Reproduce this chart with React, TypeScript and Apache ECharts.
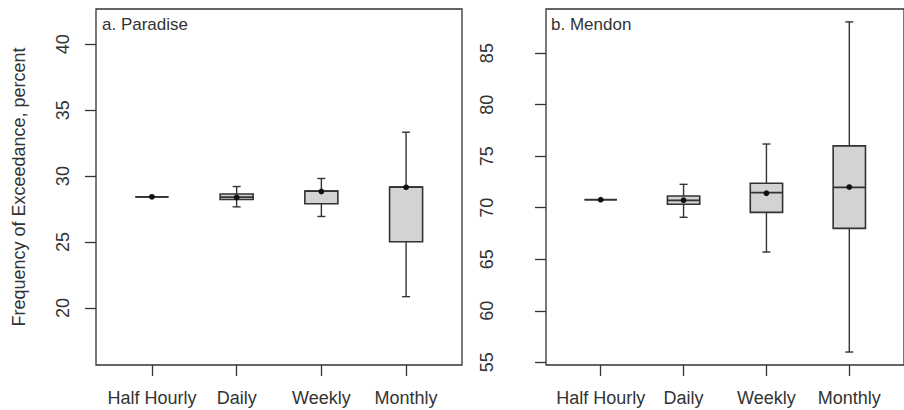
import React, { useEffect, useRef } from "react";
import * as echarts from "echarts";

// Aggregation intervals shown on the x axis
const categories = ["Half Hourly", "Daily", "Weekly", "Monthly"];

// a. Paradise — box statistics (percent)
const paradiseMin = [28.43, 27.67, 26.94, 20.86];
const paradiseQ1 = [28.43, 28.23, 27.9, 25.02];
const paradiseMedian = [28.43, 28.4, 28.86, 29.17];
const paradiseQ3 = [28.43, 28.64, 28.86, 29.17];
const paradiseMax = [28.43, 29.21, 29.82, 33.33];
const paradiseMean = [28.43, 28.38, 28.83, 29.15];
const paradiseTicks = [20, 25, 30, 35, 40];

// b. Mendon — box statistics (percent)
const mendonMin = [70.78, 69.07, 65.7, 56.0];
const mendonQ1 = [70.78, 70.33, 69.55, 68.0];
const mendonMedian = [70.78, 70.72, 71.46, 71.98];
const mendonQ3 = [70.78, 71.14, 72.37, 76.0];
const mendonMax = [70.78, 72.27, 76.18, 88.03];
const mendonMean = [70.78, 70.72, 71.4, 72.0];
const mendonTicks = [55, 60, 65, 70, 75, 80, 85];

const yTitle = "Frequency of Exceedance, percent";

const FONT = "'Liberation Sans', Arial, Helvetica, sans-serif";
const INK = "#333333";
const xPositions = [1, 2, 3, 4];

function buildRows(
  mn: number[], q1: number[], med: number[], q3: number[], mx: number[], mean: number[]
) {
  return categories.map((_, i) => [i + 1, mn[i], q1[i], med[i], q3[i], mx[i], mean[i]]);
}

const renderBox = (params: any, api: any) => {
  const x = api.value(0);
  const pMin = api.coord([x, api.value(1)]);
  const pQ1 = api.coord([x, api.value(2)]);
  const pMed = api.coord([x, api.value(3)]);
  const pQ3 = api.coord([x, api.value(4)]);
  const pMax = api.coord([x, api.value(5)]);
  const pMean = api.coord([x, api.value(6)]);
  const bw = api.size([0.39, 0])[0];
  const cx = pMed[0];
  const capHalf = 4;
  const lineStyle = { stroke: INK, lineWidth: 1.4, fill: null };
  return {
    type: "group",
    children: [
      { type: "line", shape: { x1: cx, y1: pMin[1], x2: cx, y2: pQ1[1] }, style: lineStyle },
      { type: "line", shape: { x1: cx, y1: pQ3[1], x2: cx, y2: pMax[1] }, style: lineStyle },
      { type: "line", shape: { x1: cx - capHalf, y1: pMin[1], x2: cx + capHalf, y2: pMin[1] }, style: lineStyle },
      { type: "line", shape: { x1: cx - capHalf, y1: pMax[1], x2: cx + capHalf, y2: pMax[1] }, style: lineStyle },
      {
        type: "rect",
        shape: { x: cx - bw / 2, y: pQ3[1], width: bw, height: pQ1[1] - pQ3[1] },
        style: { fill: "#d3d3d3", stroke: INK, lineWidth: 1.6 },
      },
      {
        type: "line",
        shape: { x1: cx - bw / 2, y1: pMed[1], x2: cx + bw / 2, y2: pMed[1] },
        style: { stroke: INK, lineWidth: 1.8 },
      },
      {
        type: "circle",
        shape: { cx: pMean[0], cy: pMean[1], r: 2.9 },
        style: { fill: "#111111", stroke: null },
      },
    ],
  };
};

function xAxisFor(gridIndex: number) {
  return {
    type: "value",
    gridIndex,
    min: 0.34,
    max: 4.66,
    axisLine: { show: false, onZero: false },
    splitLine: { show: false },
    axisTick: {
      show: true,
      inside: false,
      length: 11,
      customValues: xPositions,
      lineStyle: { color: INK, width: 1.3 },
    },
    axisLabel: {
      show: true,
      customValues: xPositions,
      margin: 24,
      fontSize: 18,
      fontFamily: FONT,
      color: INK,
      formatter: (v: number) => categories[Math.round(v) - 1] ?? "",
    },
  };
}

function yAxisFor(gridIndex: number, min: number, max: number, ticks: number[], margin: number) {
  return {
    type: "value",
    gridIndex,
    min,
    max,
    axisLine: { show: false, onZero: false },
    splitLine: { show: false },
    axisTick: {
      show: true,
      inside: false,
      length: 11,
      customValues: ticks,
      lineStyle: { color: INK, width: 1.3 },
    },
    axisLabel: {
      show: true,
      customValues: ticks,
      rotate: 90,
      margin,
      fontSize: 18,
      fontFamily: FONT,
      color: INK,
    },
  };
}

export default function App() {
  const ref = useRef<HTMLDivElement>(null);

  useEffect(() => {
    document.body.style.margin = "0";
    if (!ref.current) return;
    const chart = echarts.init(ref.current, null, { renderer: "svg" });
    const gridBase = {
      show: true,
      top: 9,
      height: 356,
      borderColor: INK,
      borderWidth: 1.3,
      backgroundColor: "transparent",
    };
    chart.setOption({
      animation: false,
      backgroundColor: "#ffffff",
      textStyle: { fontFamily: FONT },
      title: [
        {
          text: "a. Paradise",
          left: 102,
          top: 16,
          padding: 0,
          textStyle: { fontSize: 17, fontWeight: "normal", color: INK, fontFamily: FONT },
        },
        {
          text: "b. Mendon",
          left: 551,
          top: 16,
          padding: 0,
          textStyle: { fontSize: 17, fontWeight: "normal", color: INK, fontFamily: FONT },
        },
      ],
      graphic: [
        {
          type: "text",
          x: 19,
          y: 187,
          rotation: Math.PI / 2,
          style: {
            text: yTitle,
            fontSize: 18,
            fontFamily: FONT,
            fill: INK,
            align: "center",
            verticalAlign: "middle",
          },
        },
      ],
      grid: [
        { ...gridBase, left: 96, width: 366 },
        { ...gridBase, left: 546, width: 366 },
      ],
      xAxis: [xAxisFor(0), xAxisFor(1)],
      yAxis: [
        yAxisFor(0, 15.68, 42.67, paradiseTicks, 24),
        yAxisFor(1, 54.74, 89.28, mendonTicks, 50),
      ],
      series: [
        {
          type: "custom",
          name: "Paradise",
          xAxisIndex: 0,
          yAxisIndex: 0,
          renderItem: renderBox,
          encode: { x: 0, y: [1, 2, 3, 4, 5, 6] },
          data: buildRows(paradiseMin, paradiseQ1, paradiseMedian, paradiseQ3, paradiseMax, paradiseMean),
        },
        {
          type: "custom",
          name: "Mendon",
          xAxisIndex: 1,
          yAxisIndex: 1,
          renderItem: renderBox,
          encode: { x: 0, y: [1, 2, 3, 4, 5, 6] },
          data: buildRows(mendonMin, mendonQ1, mendonMedian, mendonQ3, mendonMax, mendonMean),
        },
      ],
    });
    return () => chart.dispose();
  }, []);

  return <div ref={ref} style={{ width: 904, height: 410 }} />;
}
